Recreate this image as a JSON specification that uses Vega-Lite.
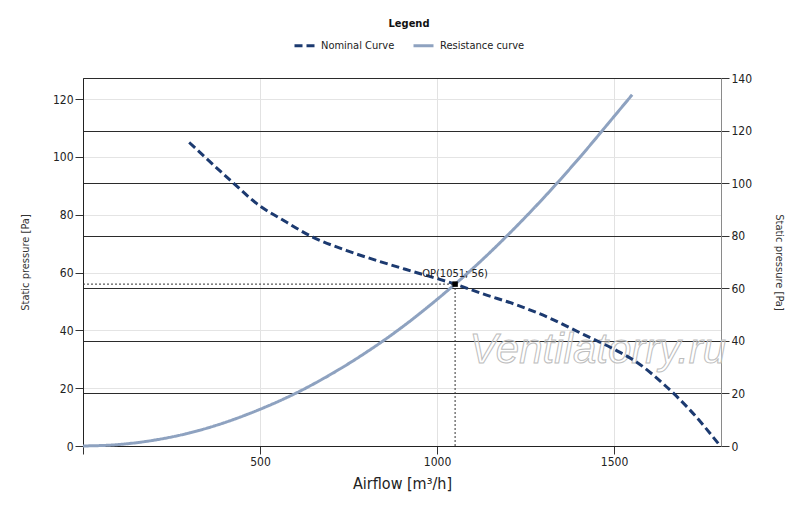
{
  "$schema": "https://vega.github.io/schema/vega-lite/v6.json",
  "width": 638,
  "height": 368,
  "autosize": {"type": "none"},
  "padding": {"left": 83, "top": 78, "right": 79, "bottom": 61},
  "background": "white",
  "config": {
    "view": {"stroke": "#333333", "strokeWidth": 1},
    "font": "Liberation Sans Narrow, DejaVu Sans Condensed, Liberation Sans, sans-serif",
    "axis": {
      "labelFontSize": 12,
      "labelColor": "#222222",
      "titleFontWeight": "normal",
      "titleColor": "#333333",
      "tickSize": 8,
      "tickColor": "#333333",
      "labelPadding": 2
    }
  },
  "datasets": {
    "curves": [
      {"series": "Nominal Curve", "airflow": 300, "pressure": 105},
      {"series": "Nominal Curve", "airflow": 420, "pressure": 91.5},
      {"series": "Nominal Curve", "airflow": 500, "pressure": 83},
      {"series": "Nominal Curve", "airflow": 556, "pressure": 78.8},
      {"series": "Nominal Curve", "airflow": 650, "pressure": 72.2},
      {"series": "Nominal Curve", "airflow": 745, "pressure": 67.6},
      {"series": "Nominal Curve", "airflow": 839, "pressure": 63.8},
      {"series": "Nominal Curve", "airflow": 933, "pressure": 60.3},
      {"series": "Nominal Curve", "airflow": 1051, "pressure": 56},
      {"series": "Nominal Curve", "airflow": 1130, "pressure": 52.6},
      {"series": "Nominal Curve", "airflow": 1225, "pressure": 48.8},
      {"series": "Nominal Curve", "airflow": 1319, "pressure": 44.2},
      {"series": "Nominal Curve", "airflow": 1413, "pressure": 38.6},
      {"series": "Nominal Curve", "airflow": 1498, "pressure": 33.6},
      {"series": "Nominal Curve", "airflow": 1564, "pressure": 29},
      {"series": "Nominal Curve", "airflow": 1648, "pressure": 20.5},
      {"series": "Nominal Curve", "airflow": 1714, "pressure": 12.5},
      {"series": "Nominal Curve", "airflow": 1800, "pressure": 0},
      {"series": "Resistance curve", "airflow": 0, "pressure": 0},
      {"series": "Resistance curve", "airflow": 100, "pressure": 0.5},
      {"series": "Resistance curve", "airflow": 200, "pressure": 2},
      {"series": "Resistance curve", "airflow": 300, "pressure": 4.5},
      {"series": "Resistance curve", "airflow": 400, "pressure": 8.1},
      {"series": "Resistance curve", "airflow": 500, "pressure": 12.7},
      {"series": "Resistance curve", "airflow": 600, "pressure": 18.2},
      {"series": "Resistance curve", "airflow": 700, "pressure": 24.8},
      {"series": "Resistance curve", "airflow": 800, "pressure": 32.4},
      {"series": "Resistance curve", "airflow": 900, "pressure": 41},
      {"series": "Resistance curve", "airflow": 1000, "pressure": 50.7},
      {"series": "Resistance curve", "airflow": 1051, "pressure": 56},
      {"series": "Resistance curve", "airflow": 1100, "pressure": 61.3},
      {"series": "Resistance curve", "airflow": 1200, "pressure": 73},
      {"series": "Resistance curve", "airflow": 1300, "pressure": 85.7},
      {"series": "Resistance curve", "airflow": 1400, "pressure": 99.4},
      {"series": "Resistance curve", "airflow": 1500, "pressure": 114},
      {"series": "Resistance curve", "airflow": 1551, "pressure": 121.5}
    ],
    "op": [{"airflow": 1051, "pressure": 56, "zero": 0, "label": "OP(1051; 56)"}],
    "watermark": [{"airflow": 1454, "pressure": 28.7, "text": "Ventilatorry.ru"}],
    "rightAxis": [{"v": 0}, {"v": 140}]
  },
  "layer": [
    {
      "layer": [
        {
          "data": {"name": "watermark"},
          "mark": {
            "type": "text",
            "font": "Liberation Sans, Arial, sans-serif",
            "fontStyle": "italic",
            "fontSize": 42,
            "fill": "#ffffff",
            "fillOpacity": 0.35,
            "stroke": "#bdbdbd",
            "strokeWidth": 1,
            "align": "center",
            "baseline": "alphabetic"
          },
          "encoding": {
            "x": {"field": "airflow", "type": "quantitative"},
            "y": {"field": "pressure", "type": "quantitative"},
            "text": {"field": "text"}
          }
        },
        {
          "data": {"name": "curves"},
          "mark": {"type": "line", "strokeWidth": 3, "interpolate": "monotone"},
          "encoding": {
            "x": {
              "field": "airflow",
              "type": "quantitative",
              "scale": {"domain": [0, 1802], "nice": false},
              "axis": {
                "title": "Airflow [m³/h]",
                "titleFontSize": 16,
                "titleColor": "#222222",
                "titlePadding": 8,
                "values": [0, 500, 1000, 1500],
                "format": "d",
                "labelExpr": "datum.value == 0 ? '' : datum.label",
                "domainColor": "#222222",
                "gridColor": "#e2e2e2"
              }
            },
            "y": {
              "field": "pressure",
              "type": "quantitative",
              "scale": {"domain": [0, 127.3], "nice": false},
              "axis": {
                "title": "Static pressure [Pa]",
                "titleFontSize": 11,
                "titlePadding": 22,
                "values": [0, 20, 40, 60, 80, 100, 120],
                "domainColor": "#222222",
                "gridColor": "#e4e4e4"
              }
            },
            "color": {
              "field": "series",
              "type": "nominal",
              "scale": {"domain": ["Nominal Curve", "Resistance curve"], "range": ["#1c3a70", "#8ea2c0"]},
              "legend": {
                "title": "Legend",
                "orient": "none",
                "legendX": 210,
                "legendY": -60,
                "direction": "horizontal",
                "titleAnchor": "middle",
                "titleOrient": "top",
                "titleFontSize": 11,
                "titleFontWeight": "bold",
                "titleColor": "#111111",
                "labelFontSize": 11,
                "labelColor": "#222222",
                "labelOffset": 5,
                "columnPadding": 12,
                "symbolType": "stroke",
                "symbolSize": 400,
                "symbolStrokeWidth": 3,
                "padding": 0
              }
            },
            "strokeDash": {
              "field": "series",
              "type": "nominal",
              "scale": {"domain": ["Nominal Curve", "Resistance curve"], "range": [[8, 4], [1, 0]]},
              "legend": null
            }
          }
        },
        {
          "data": {"name": "op"},
          "mark": {"type": "rule", "color": "#333333", "strokeWidth": 1, "strokeDash": [2, 2]},
          "encoding": {
            "x": {"field": "zero", "type": "quantitative"},
            "x2": {"field": "airflow"},
            "y": {"field": "pressure", "type": "quantitative"}
          }
        },
        {
          "data": {"name": "op"},
          "mark": {"type": "rule", "color": "#333333", "strokeWidth": 1, "strokeDash": [2, 2]},
          "encoding": {
            "x": {"field": "airflow", "type": "quantitative"},
            "y": {"field": "zero", "type": "quantitative"},
            "y2": {"field": "pressure"}
          }
        },
        {
          "data": {"name": "op"},
          "mark": {"type": "point", "shape": "square", "filled": true, "color": "#000000", "size": 30, "opacity": 1},
          "encoding": {
            "x": {"field": "airflow", "type": "quantitative"},
            "y": {"field": "pressure", "type": "quantitative"}
          }
        },
        {
          "data": {"name": "op"},
          "mark": {"type": "text", "fontSize": 11, "color": "#222222", "align": "center", "baseline": "alphabetic", "dy": -7},
          "encoding": {
            "x": {"field": "airflow", "type": "quantitative"},
            "y": {"field": "pressure", "type": "quantitative"},
            "text": {"field": "label"}
          }
        }
      ]
    },
    {
      "data": {"name": "rightAxis"},
      "mark": {"type": "point", "opacity": 0},
      "encoding": {
        "y": {
          "field": "v",
          "type": "quantitative",
          "scale": {"domain": [0, 140], "nice": false},
          "axis": {
            "orient": "right",
            "title": "Static pressure [Pa]",
            "titleFontSize": 11,
            "titlePadding": 22,
            "values": [0, 20, 40, 60, 80, 100, 120, 140],
            "domainColor": "#8a8a8a",
            "grid": true,
            "gridColor": "#2b2b2b",
            "gridOpacity": 1
          }
        }
      }
    }
  ],
  "resolve": {"scale": {"y": "independent"}}
}
